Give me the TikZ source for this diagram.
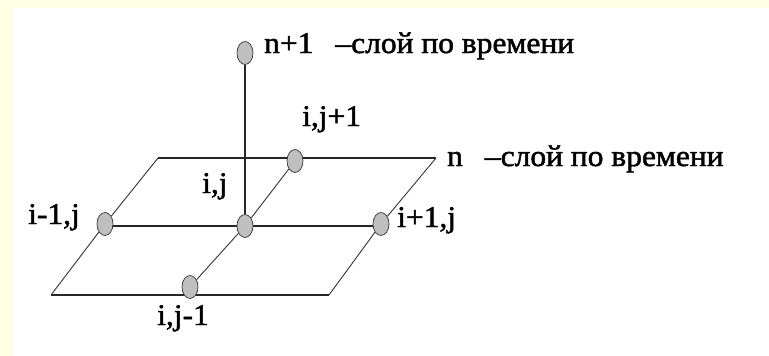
\documentclass[tikz,border=0pt]{standalone}
\usepackage{fontspec}
\setmainfont[FakeBold=1.6,FakeStretch=1.05]{Liberation Serif}
\usetikzlibrary{
    backgrounds,
    shapes.geometric
}
\definecolor{cream}{rgb}{1.0, 1.0, 0.89}
\tikzstyle{gridpoint} = [
    ellipse,
    draw=black!80,
    line width=0.7pt,
    fill=black!25,
    minimum width=16pt,
    minimum height=23pt,
    inner sep=0pt
]
\tikzstyle{pointlabel} = [
    anchor=base west,
    inner sep=0pt,
    font=\fontsize{30pt}{30pt}\selectfont
]
\tikzstyle{thickline} = [
    line width=1.8pt,
    draw=black!85
]
\tikzstyle{thinline} = [
    line width=0.9pt,
    draw=black!80
]

\begin{document}
\begin{tikzpicture}[x=1pt, y=-1pt]
    % Grid points
    \node[gridpoint] (top) at (245,53) {};
    \node[gridpoint] (center) at (245,226) {};
    \node[gridpoint] (north) at (295,161) {};
    \node[gridpoint] (west) at (105,224) {};
    \node[gridpoint] (east) at (381,224) {};
    \node[gridpoint] (south) at (190,287) {};

    % Corners of the layer
    \coordinate (backleft) at (158,158);
    \coordinate (backright) at (436,158);
    \coordinate (frontleft) at (51,295);
    \coordinate (frontright) at (329,295);

    % Labels
    \node[pointlabel] (toplabel) at (264,53) {n+1\hspace{22pt}–слой по времени};
    \node[pointlabel] (layerlabel) at (447,166) {n\hspace{22pt}–слой по времени};
    \node[pointlabel] (northlabel) at (302,126) {i,j+1};
    \node[pointlabel] (centerlabel) at (202,193) {i,j};
    \node[pointlabel] (westlabel) at (28,224) {i-1,j};
    \node[pointlabel] (eastlabel) at (397,227) {i+1,j};
    \node[pointlabel] (southlabel) at (157,325) {i,j-1};

    \begin{pgfonlayer}{background}
        % Page
        \fill[cream] (0,0) rectangle (769,356);
        \fill[white] (13,8) rectangle (769,356);

        % Lines
        \draw[thickline] (backleft) -- (backright);
        \draw[thickline] (west |- center) -- (east |- center);
        \draw[thickline] (frontleft) -- (frontright);
        \draw[thickline] (top) -- (center);
        \draw[thinline] (backleft) -- (west);
        \draw[thinline] (west) -- (frontleft);
        \draw[thinline] (north) -- (center);
        \draw[thinline] (center) -- (south);
        \draw[thinline] (backright) -- (east);
        \draw[thinline] (east) -- (frontright);
    \end{pgfonlayer}
\end{tikzpicture}
\end{document}
